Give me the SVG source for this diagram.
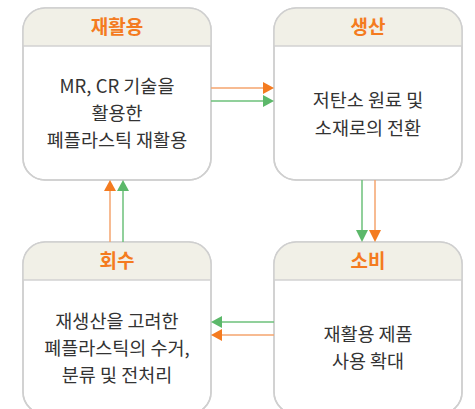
<svg xmlns="http://www.w3.org/2000/svg" width="475" height="409" viewBox="0 0 475 409">
<style>
.box{fill:#ffffff;stroke:#cfcfcf;stroke-width:1.5}
.hdr{fill:#f1f0e7}
.sep{stroke:#d2d2d2;stroke-width:1.5}
.title{font-family:"Noto Sans CJK KR","Noto Sans",sans-serif;font-size:19px;font-weight:bold;fill:#f47b20;text-anchor:middle}
.body{font-family:"Noto Sans CJK KR","Noto Sans",sans-serif;font-size:18.5px;fill:#333333;text-anchor:middle}
.or{stroke:#f5a56e;stroke-width:1.5;fill:none}
.gr{stroke:#6cc07a;stroke-width:1.5;fill:none}
</style>
<defs>
<clipPath id="c1"><rect x="23" y="8" width="188" height="172" rx="22"/></clipPath>
<clipPath id="c2"><rect x="274" y="8" width="188" height="172" rx="22"/></clipPath>
<clipPath id="c3"><rect x="23" y="242" width="188" height="172" rx="22"/></clipPath>
<clipPath id="c4"><rect x="274" y="242" width="188" height="172" rx="22"/></clipPath>
</defs>
<g id="recycle">
<rect x="23" y="8" width="188" height="172" rx="22" class="box"/>
<rect x="23" y="8" width="188" height="38" class="hdr" clip-path="url(#c1)"/>
<line x1="23" y1="46" x2="211" y2="46" class="sep"/>
<rect x="23" y="8" width="188" height="172" rx="22" fill="none" stroke="#cfcfcf" stroke-width="1.5"/>
<text x="117" y="34" class="title">재활용</text>
<text x="117" y="93" class="body">MR, CR 기술을</text>
<text x="117" y="120" class="body">활용한</text>
<text x="117" y="147" class="body">폐플라스틱 재활용</text>
</g>
<g id="produce">
<rect x="274" y="8" width="188" height="172" rx="22" class="box"/>
<rect x="274" y="8" width="188" height="38" class="hdr" clip-path="url(#c2)"/>
<line x1="274" y1="46" x2="462" y2="46" class="sep"/>
<rect x="274" y="8" width="188" height="172" rx="22" fill="none" stroke="#cfcfcf" stroke-width="1.5"/>
<text x="368" y="34" class="title">생산</text>
<text x="368" y="107" class="body">저탄소 원료 및</text>
<text x="368" y="135" class="body">소재로의 전환</text>
</g>
<g id="collect">
<rect x="23" y="242" width="188" height="172" rx="22" class="box"/>
<rect x="23" y="242" width="188" height="38" class="hdr" clip-path="url(#c3)"/>
<line x1="23" y1="280" x2="211" y2="280" class="sep"/>
<rect x="23" y="242" width="188" height="172" rx="22" fill="none" stroke="#cfcfcf" stroke-width="1.5"/>
<text x="117" y="268" class="title">회수</text>
<text x="117" y="328" class="body">재생산을 고려한</text>
<text x="117" y="355" class="body">폐플라스틱의 수거,</text>
<text x="117" y="382" class="body">분류 및 전처리</text>
</g>
<g id="consume">
<rect x="274" y="242" width="188" height="172" rx="22" class="box"/>
<rect x="274" y="242" width="188" height="38" class="hdr" clip-path="url(#c4)"/>
<line x1="274" y1="280" x2="462" y2="280" class="sep"/>
<rect x="274" y="242" width="188" height="172" rx="22" fill="none" stroke="#cfcfcf" stroke-width="1.5"/>
<text x="368" y="268" class="title">소비</text>
<text x="368" y="341" class="body">재활용 제품</text>
<text x="368" y="368" class="body">사용 확대</text>
</g>
<g id="connectors">
<line x1="211" y1="88" x2="264" y2="88" class="or"/>
<polygon points="263,82 274,88 263,94" fill="#f47b20"/>
<line x1="211" y1="101" x2="264" y2="101" class="gr"/>
<polygon points="263,95 274,101 263,107" fill="#5cb86a"/>
<line x1="362" y1="180" x2="362" y2="231" class="gr"/>
<polygon points="356,230 362,242 368,230" fill="#5cb86a"/>
<line x1="375" y1="180" x2="375" y2="231" class="or"/>
<polygon points="369,230 375,242 381,230" fill="#f47b20"/>
<line x1="274" y1="322" x2="221" y2="322" class="gr"/>
<polygon points="222,316 211,322 222,328" fill="#5cb86a"/>
<line x1="274" y1="335" x2="221" y2="335" class="or"/>
<polygon points="222,329 211,335 222,341" fill="#f47b20"/>
<line x1="110" y1="242" x2="110" y2="190" class="or"/>
<polygon points="104,191 110,180 116,191" fill="#f47b20"/>
<line x1="123" y1="242" x2="123" y2="190" class="gr"/>
<polygon points="117,191 123,180 129,191" fill="#5cb86a"/>
</g>
</svg>
